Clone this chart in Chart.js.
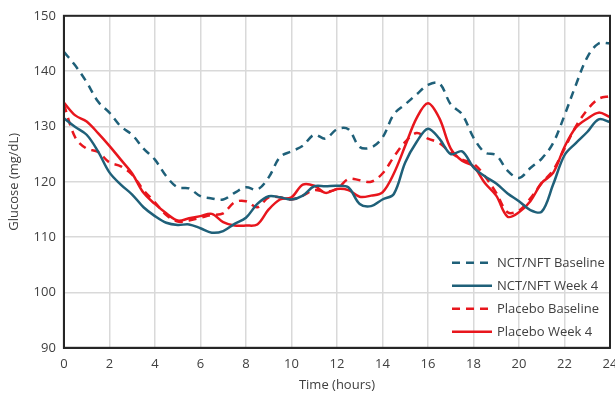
<!DOCTYPE html>
<html>
<head>
<meta charset="utf-8">
<script src="https://cdn.jsdelivr.net/npm/chart.js@4"></script>
<style>
  html, body { margin: 0; padding: 0; background: #fff; }
  #wrap { width: 615px; height: 393px; }
</style>
</head>
<body>
<div id="wrap"><canvas id="grafico"></canvas></div>
<script>
// time points (hours), every half hour
const horas = [0,0.5,1,1.5,2,2.5,3,3.5,4,4.5,5,5.5,6,6.5,7,7.5,8,8.5,9,9.5,10,10.5,11,11.5,12,
  12.5,13,13.5,14,14.5,15,15.5,16,16.5,17,17.5,18,18.5,19,19.5,20,20.5,21,21.5,22,22.5,23,23.5,24];

const nctBaseline = [143.5,141,138,134.5,132.5,130,128.5,126,124,121,119,118.8,117.4,117,116.8,118,119,118.6,120.8,124.5,125.5,
  126.5,128.5,127.8,129.5,129.5,126.3,126.2,128,132.2,134,135.8,137.5,137.8,134,132.2,128,125.3,124.8,122,120.7,122.5,124.2,127,132,137.5,142.5,145,145];

const nctSemana4 = [131.5,129.9,128.5,125.5,121.7,119.5,117.7,115.4,113.8,112.6,112.2,112.3,111.6,110.8,111.1,112.4,113.5,116,117.4,117.2,116.8,
  117.5,119.2,119.2,119.3,119,116,115.6,116.8,117.8,123.5,127.2,129.6,127.8,125,125.5,122.6,121,119.7,117.9,116.5,114.9,114.6,119.5,124.8,127,129,131.3,130.8];

const placeboBaseline = [134,128,126,125.4,123.5,122.8,121.3,118.5,116.3,114,112.8,113,113.5,114,114.3,116.3,116.5,115.4,117.2,117.2,116.8,
  117.5,118.5,118.2,118.7,120.5,120.3,120,121.5,124.5,127.2,128.8,127.8,127,125.3,124,123.3,121,118,114.5,114.8,117,119.8,122.1,126,130,133,135,135.5];

const placeboSemana4 = [134.3,132,130.9,128.8,126.5,124,121.5,118,116,114.3,113,113.4,113.8,114.2,112.7,112.1,112.1,112.3,115,116.8,117.2,
  119.5,119.3,118,118.7,118.5,117.3,117.5,118.1,121.5,126.5,131.5,134.2,131.5,126,123.8,122.8,119.8,117.5,113.7,114.5,116.5,119.8,121.6,126.3,129.8,131.4,132.5,131.7];

const legendas = ['NCT/NFT Baseline', 'NCT/NFT Week 4', 'Placebo Baseline', 'Placebo Week 4'];

const azul = '#1f6079';
const vermelho = '#e8161d';
const fonte = "'Open Sans', sans-serif";

function pontos(valores) {
    return valores.map((v, i) => ({ x: horas[i], y: v }));
}

function serie(label, valores, cor, tracejado) {
    return {
        label: label,
        data: pontos(valores),
        borderColor: cor,
        backgroundColor: cor,
        borderWidth: 2.5,
        borderDash: tracejado ? [8, 6] : [],
        pointRadius: 0,
        tension: 0.35,
        fill: false
    };
}

// legend drawn inside the plot, lower right
const legendaInterna = {
    id: 'legendaInterna',
    afterDraw(chart) {
        const ctx = chart.ctx;
        const area = chart.chartArea;
        const x0 = area.right - 158;
        let y = area.bottom - 85;
        ctx.save();
        ctx.font = '13px ' + fonte;
        ctx.textBaseline = 'middle';
        chart.data.datasets.forEach((ds) => {
            ctx.strokeStyle = ds.borderColor;
            ctx.lineWidth = 2.5;
            ctx.setLineDash(ds.borderDash);
            ctx.beginPath();
            ctx.moveTo(x0, y);
            ctx.lineTo(x0 + 40, y);
            ctx.stroke();
            ctx.setLineDash([]);
            ctx.fillStyle = '#404040';
            ctx.fillText(ds.label, x0 + 45, y);
            y += 23;
        });
        ctx.restore();
    }
};

// dark frame around the plot area
const moldura = {
    id: 'moldura',
    afterDatasetsDraw(chart) {
        const a = chart.chartArea;
        const ctx = chart.ctx;
        ctx.save();
        ctx.strokeStyle = '#262626';
        ctx.lineWidth = 2;
        ctx.strokeRect(a.left, a.top, a.right - a.left, a.bottom - a.top);
        ctx.restore();
    }
};

const grafico = new Chart(document.getElementById('grafico'), {
    type: 'line',
    data: {
        datasets: [
            serie(legendas[0], nctBaseline, azul, true),
            serie(legendas[1], nctSemana4, azul, false),
            serie(legendas[2], placeboBaseline, vermelho, true),
            serie(legendas[3], placeboSemana4, vermelho, false)
        ]
    },
    options: {
        responsive: true,
        maintainAspectRatio: false,
        animation: false,
        layout: { padding: { top: 8, right: 5, left: 2, bottom: 0 } },
        plugins: {
            legend: { display: false },
            tooltip: { enabled: false }
        },
        scales: {
            x: {
                type: 'linear',
                min: 0,
                max: 24,
                afterFit(escala) { escala.paddingRight = 0; },
                ticks: { stepSize: 2, color: '#404040', font: { family: fonte, size: 13 }, padding: 9 },
                grid: { color: '#d9d9d9', lineWidth: 1.5, drawTicks: false },
                border: { color: '#262626', width: 2 },
                title: { display: true, text: 'Time (hours)', color: '#404040', font: { family: fonte, size: 13 }, padding: { top: -4, bottom: 0 } }
            },
            y: {
                min: 90,
                max: 150,
                ticks: { stepSize: 10, color: '#404040', font: { family: fonte, size: 13 }, padding: 8 },
                grid: { color: '#d9d9d9', lineWidth: 1.5, drawTicks: false },
                border: { color: '#262626', width: 2 },
                title: { display: true, text: 'Glucose (mg/dL)', color: '#404040', font: { family: fonte, size: 13 } }
            }
        }
    },
    plugins: [legendaInterna, moldura]
});
</script>
</body>
</html>
